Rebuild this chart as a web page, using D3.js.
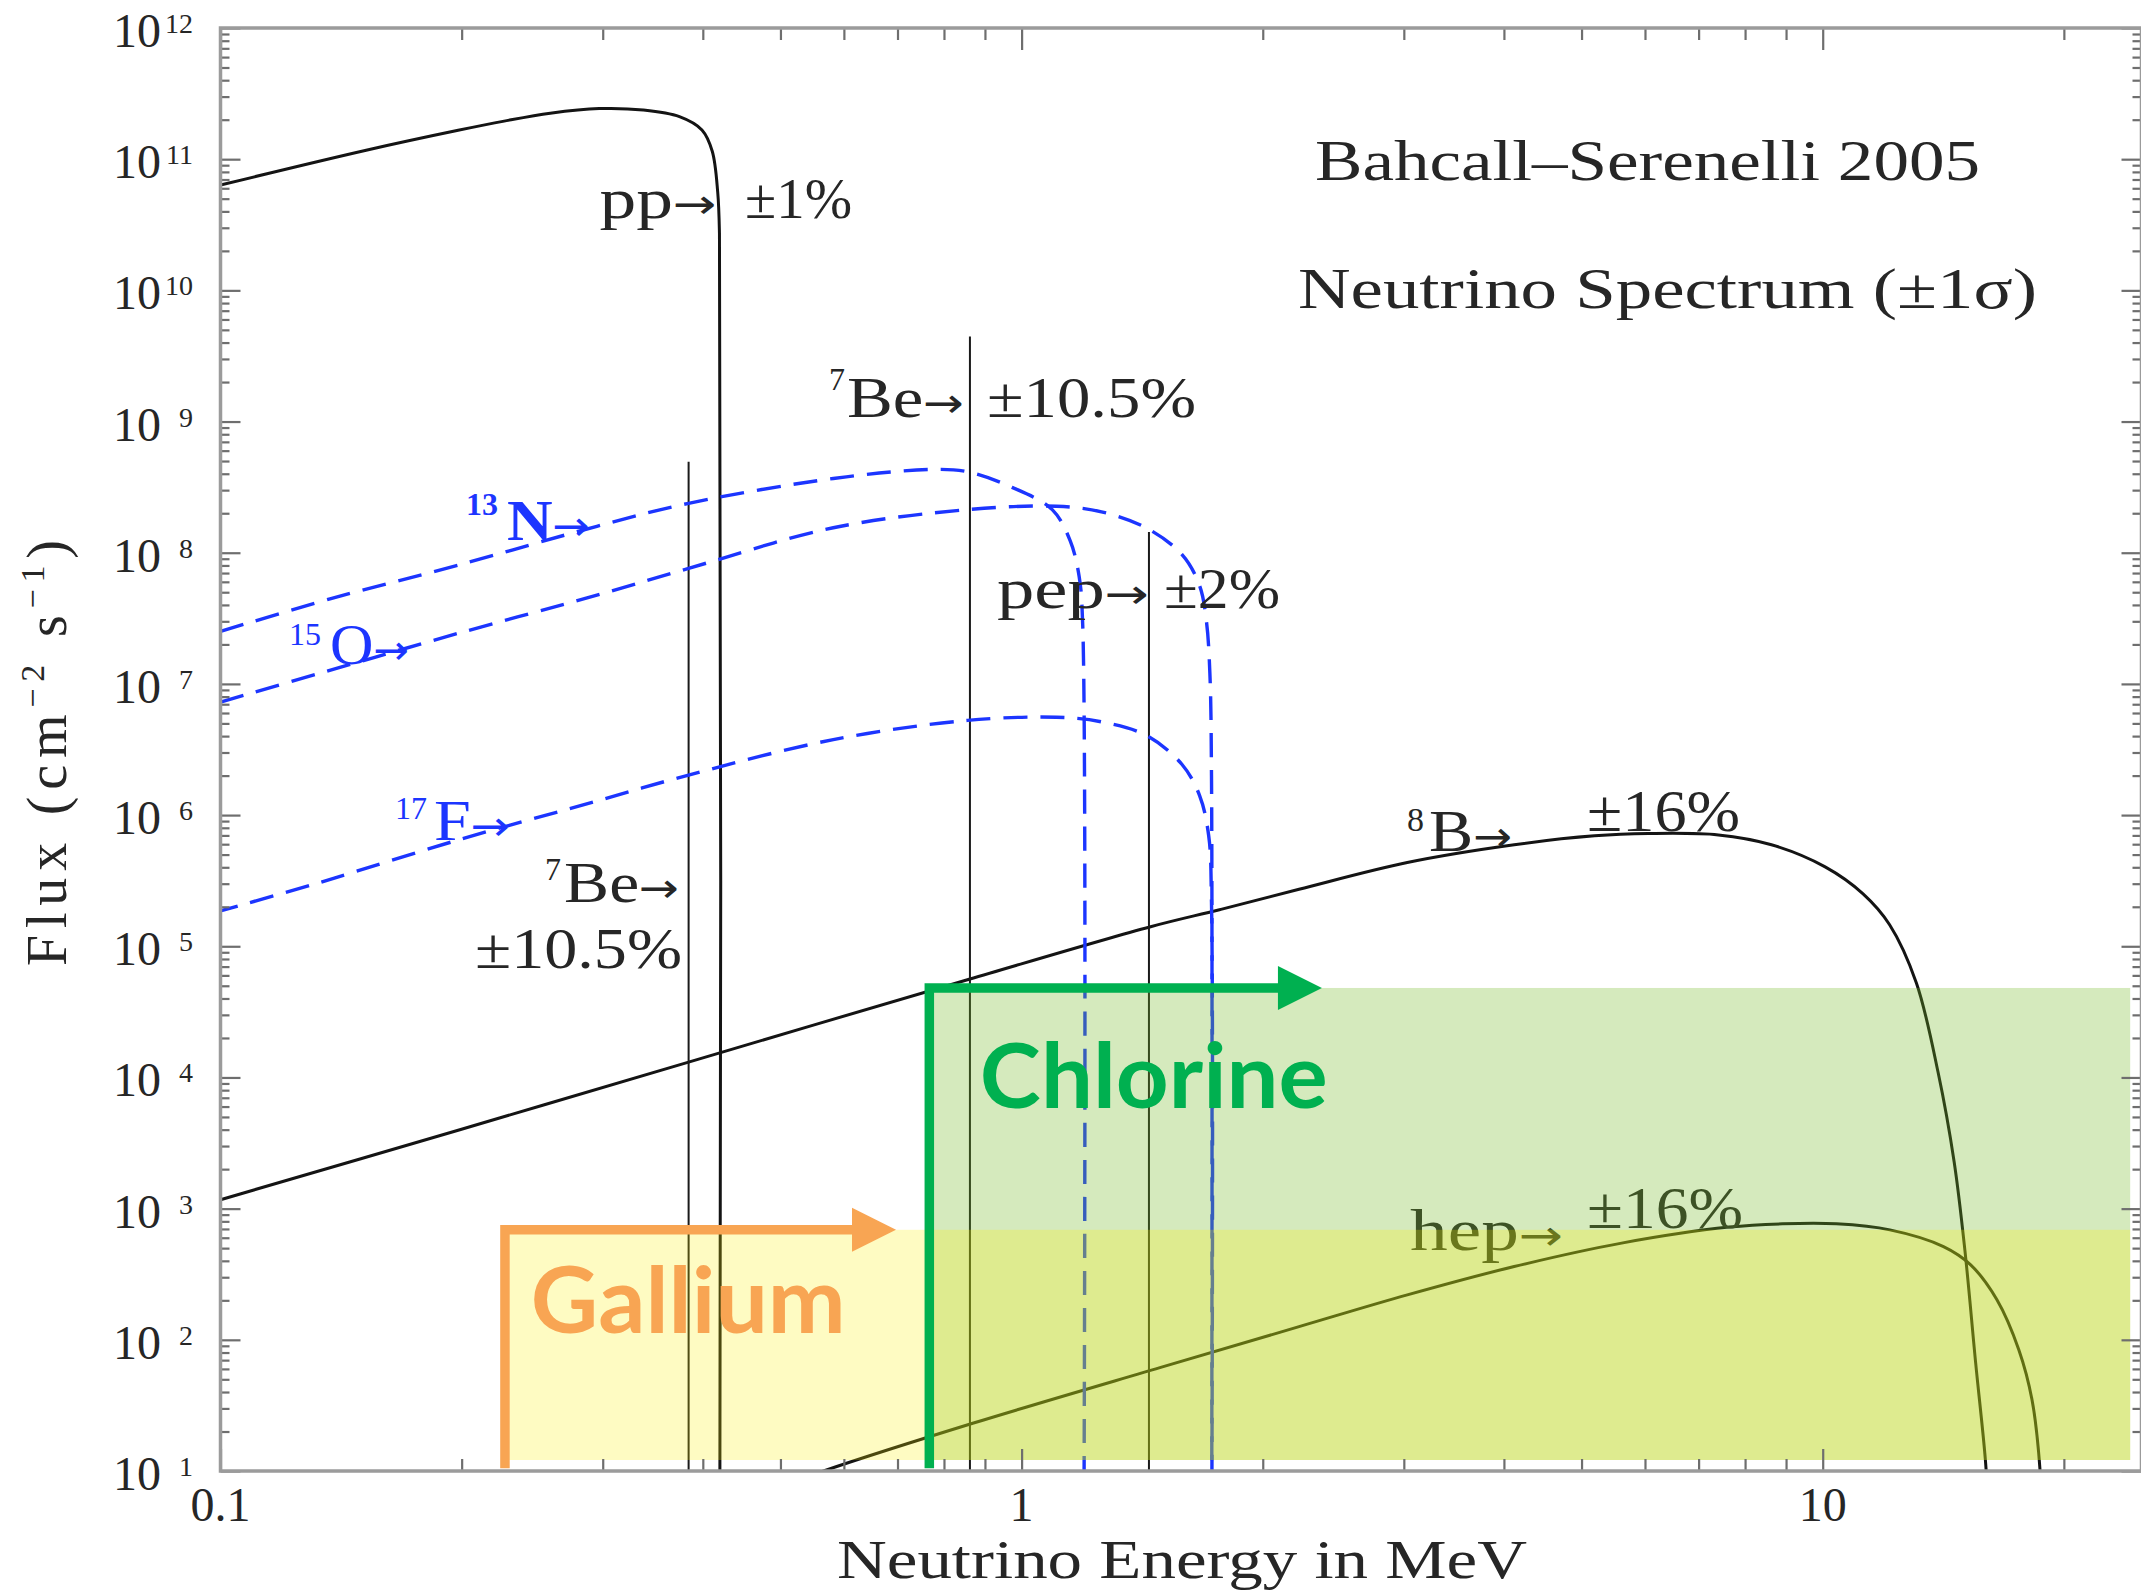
<!DOCTYPE html>
<html>
<head>
<meta charset="utf-8">
<title>Solar neutrino spectrum</title>
<script src="https://cdn.jsdelivr.net/npm/d3@7"></script>
<style>
  html, body { margin: 0; padding: 0; background: #fff; }
  svg { display: block; }
</style>
</head>
<body>
<svg id="chart" width="2141" height="1592"></svg>
<script>
// ---- Spectra: neutrino energy (MeV) and flux (cm^-2 s^-1, per MeV for continua) ----
const ppEnergy  = [0.1, 0.152, 0.198, 0.226, 0.258, 0.297, 0.337, 0.374, 0.399, 0.411, 0.4175, 0.4196, 0.420];
const ppFlux    = [6.35e10, 1.17e11, 1.66e11, 1.95e11, 2.24e11, 2.43e11, 2.37e11, 2.11e11, 1.67e11, 1.15e11, 5.6e10, 2.72e10, 3];

const b8Energy  = [0.1, 0.198, 0.384, 0.86, 1.449, 1.766, 2.22, 3.03, 4.12, 5.19, 6.06, 7.41, 8.63, 10.07, 11.23, 12.12, 13.09, 13.93, 14.59, 15.05, 15.52, 15.96, 16.1];
const b8Flux    = [1.17e3, 3.96e3, 1.31e4, 5.61e4, 1.41e5, 1.90e5, 2.72e5, 4.35e5, 5.94e5, 6.95e5, 7.23e5, 7.06e5, 5.94e5, 4.03e5, 2.51e5, 1.46e5, 5.25e4, 1.10e4, 2.28e3, 479, 67, 12.2, 5];

const hepEnergy = [0.5, 0.566, 0.871, 1.51, 2.22, 3.03, 4.12, 5.61, 7.64, 8.91, 10.4, 12.13, 14.15, 15.3, 16.5, 17.57, 18.25, 18.68, 18.77];
const hepFlux   = [7.6, 10, 23.2, 63, 126, 220, 362, 546, 723, 766, 766, 689, 514, 373, 202, 84, 34.9, 10, 4];

const n13Energy = [0.1, 0.137, 0.198, 0.295, 0.384, 0.582, 0.772, 0.856, 0.973, 1.092, 1.15, 1.18, 1.192, 1.196];
const n13Flux   = [2.51e7, 4.45e7, 8.04e7, 1.59e8, 2.38e8, 3.68e8, 4.31e8, 4.14e8, 3.15e8, 2.13e8, 1.23e8, 6.56e7, 2.82e7, 3];

const o15Energy = [0.1, 0.1406, 0.198, 0.295, 0.384, 0.582, 0.856, 1.106, 1.258, 1.43, 1.585, 1.668, 1.701, 1.718, 1.726, 1.727];
const o15Flux   = [7.26e6, 1.33e7, 2.43e7, 4.75e7, 7.60e7, 1.55e8, 2.13e8, 2.26e8, 2.05e8, 1.55e8, 9.71e7, 5.61e7, 3.0e7, 1.2e7, 2e6, 3];

const f17Energy = [0.1, 0.1334, 0.198, 0.295, 0.384, 0.582, 0.856, 1.106, 1.258, 1.43, 1.585, 1.668, 1.712, 1.726, 1.727];
const f17Flux   = [1.86e5, 3.08e5, 6.46e5, 1.28e6, 2.02e6, 3.76e6, 5.27e6, 5.57e6, 5.14e6, 4.06e6, 2.44e6, 1.41e6, 6.98e5, 2.15e5, 3];

// Monoenergetic lines: 7Be (two branches) and pep
const lineEnergy = [0.384, 0.862, 1.442];
const lineFlux   = [4.94e8, 4.44e9, 1.44e8];

// Detector sensitivity bands (energy edge, upper flux edge)
const galliumEdge = 0.2265, galliumTop = 690, galliumArrowTip = 0.697;
const chlorineEdge = 0.767, chlorineTop = 4.81e4, chlorineArrowTip = 2.371;
const bandEnd = 24.2, bandFloor = 12.13, edgeFloor = 10.5;

// Axis ticks
const xTickValues = [0.1, 1, 10];
const xTickLabels = ["0.1", "1", "10"];
const xMinorTicks = [0.2, 0.3, 0.4, 0.5, 0.6, 0.7, 0.8, 0.9, 2, 3, 4, 5, 6, 7, 8, 9, 20];
const yExponents  = [1, 2, 3, 4, 5, 6, 7, 8, 9, 10, 11, 12];

// Annotations anchored at (energy, flux): text start and baseline
const blackLabels = [
  { text: "Bahcall–Serenelli 2005", e: 2.324, f: 6.94e10, w: 665, size: 57 },
  { text: "Neutrino Spectrum (±1σ)", e: 2.213, f: 7.34e9, w: 739, size: 57 },
  { text: "pp→", e: 0.2972, f: 3.56e10, w: 117, size: 58 },
  { text: "±1%", e: 0.4516, f: 3.56e10, w: 107, size: 58 },
  { text: "7", e: 0.575, f: 1.74e9, size: 32 },
  { text: "Be→", e: 0.6054, f: 1.083e9, w: 117, size: 58 },
  { text: "±10.5%", e: 0.9053, f: 1.083e9, w: 209, size: 58 },
  { text: "pep→", e: 0.9317, f: 3.79e7, w: 152, size: 58 },
  { text: "±2%", e: 1.506, f: 3.79e7, w: 116, size: 58 },
  { text: "7", e: 0.2542, f: 3.2e5, size: 32 },
  { text: "Be→", e: 0.2685, f: 2.175e5, w: 115, size: 58 },
  { text: "±10.5%", e: 0.2078, f: 6.83e4, w: 207, size: 58 },
  { text: "8", e: 3.028, f: 7.56e5, size: 34 },
  { text: "B→", e: 3.226, f: 5.32e5, w: 83, size: 60 },
  { text: "±16%", e: 5.08, f: 7.56e5, w: 153, size: 60 },
  { text: "hep→", e: 3.054, f: 483.5, w: 153, size: 60 },
  { text: "±16%", e: 5.08, f: 711.8, w: 156, size: 60 }
];
const blueLabels = [
  { text: "13", e: 0.2025, f: 1.94e8, size: 32, bold: true },
  { text: "N→", e: 0.2278, f: 1.25e8, w: 83, size: 58, bold: true },
  { text: "15", e: 0.1218, f: 1.98e7, size: 32 },
  { text: "O→", e: 0.137, f: 1.418e7, w: 79, size: 58 },
  { text: "17", e: 0.1651, f: 9.34e5, size: 32 },
  { text: "F→", e: 0.1847, f: 6.46e5, w: 76, size: 58 }
];

// ---- Layout ----
const W = 2141, H = 1592;
const plot = { left: 220.5, right: 2141.5, top: 28, bottom: 1471 };
const x = d3.scaleLog().domain([0.1, 25]).range([plot.left, plot.right]);
const y = d3.scaleLog().domain([10, 1e12]).range([plot.bottom, plot.top]);

const SERIF = "'Liberation Serif', 'DejaVu Serif', serif";
const ARROW_FONT = "'DejaVu Sans', sans-serif";
const INK = "#262626";
const BLUE = "#1c35ff";
const ORANGE = "#f8a553";
const GREEN = "#00b050";
const DASH = [24, 13];

const svg = d3.select("#chart");
svg.append("rect").attr("width", W).attr("height", H).attr("fill", "#fff");
svg.append("defs").append("clipPath").attr("id", "plotClip")
  .append("rect")
  .attr("x", plot.left).attr("y", plot.top)
  .attr("width", plot.right - plot.left).attr("height", plot.bottom - plot.top);

const zip = (E, F) => E.map((e, i) => [e, F[i]]);
const curve = d3.line().x(d => x(d[0])).y(d => y(d[1])).curve(d3.curveCatmullRom.alpha(0.5));

// ---- Spectra ----
const gCurves = svg.append("g").attr("clip-path", "url(#plotClip)");

[[ppEnergy, ppFlux], [b8Energy, b8Flux], [hepEnergy, hepFlux]].forEach(([E, F]) => {
  gCurves.append("path")
    .attr("d", curve(zip(E, F)))
    .attr("fill", "none").attr("stroke", "#141414").attr("stroke-width", 3)
    .attr("stroke-linejoin", "round");
});

gCurves.selectAll("line.mono")
  .data(zip(lineEnergy, lineFlux))
  .join("line").attr("class", "mono")
  .attr("x1", d => x(d[0])).attr("x2", d => x(d[0]))
  .attr("y1", d => y(d[1])).attr("y2", plot.bottom)
  .attr("stroke", "#1a1a1a").attr("stroke-width", 2);

const cno = {};
[["n13", n13Energy, n13Flux], ["o15", o15Energy, o15Flux], ["f17", f17Energy, f17Flux]].forEach(([k, E, F]) => {
  cno[k] = gCurves.append("path")
    .attr("d", curve(zip(E, F)))
    .attr("fill", "none").attr("stroke", BLUE).attr("stroke-width", 3.4)
    .attr("stroke-dasharray", DASH.join(" "));
});

// 15O and 17F share the same end-point drop: interleave their dashes there
(function interleaveDrop() {
  const p15 = cno.o15.node(), p17 = cno.f17.node();
  const joinY = y(f17Flux[f17Flux.length - 2]);
  const lengthAtJoin = (p) => {
    let l = p.getTotalLength();
    while (l > 0 && p.getPointAtLength(l).y >= joinY) l -= 0.5;
    return l;
  };
  const L15 = lengthAtJoin(p15), L17 = lengthAtJoin(p17);
  const period = DASH[0] + DASH[1];
  const shift = DASH[0] - (DASH[0] - DASH[1]) / 2;
  const off = (((L15 - L17 - shift) % period) + period) % period;
  cno.f17.attr("stroke-dashoffset", off);
})();

// ---- Annotations ----
const gText = svg.append("g").attr("font-family", SERIF);

function addLabel(g, d, color) {
  const t = g.append("text")
    .attr("x", x(d.e)).attr("y", y(d.f))
    .attr("font-size", d.size)
    .attr("fill", color)
    .attr("font-weight", d.bold ? 700 : 400);
  const parts = d.text.split("→");
  t.append("tspan").text(parts[0]);
  if (parts.length > 1) {
    t.append("tspan")
      .attr("font-family", ARROW_FONT).attr("font-weight", 400)
      .attr("font-size", Math.round(d.size * 0.7))
      .text("→");
    if (parts[1]) t.append("tspan").text(parts[1]);
  }
  if (d.w) t.attr("textLength", d.w).attr("lengthAdjust", "spacingAndGlyphs");
}
blackLabels.forEach(d => addLabel(gText, d, INK));
blueLabels.forEach(d => addLabel(gText, d, BLUE));

// ---- Detector bands (translucent overlays) ----
const gBands = svg.append("g");
gBands.append("rect")
  .attr("x", x(chlorineEdge)).attr("y", y(chlorineTop))
  .attr("width", x(bandEnd) - x(chlorineEdge))
  .attr("height", y(bandFloor) - y(chlorineTop))
  .attr("fill", "rgb(115,185,35)").attr("fill-opacity", 0.3);
gBands.append("rect")
  .attr("x", x(galliumEdge)).attr("y", y(galliumTop))
  .attr("width", x(bandEnd) - x(galliumEdge))
  .attr("height", y(bandFloor) - y(galliumTop))
  .attr("fill", "rgb(250,238,0)").attr("fill-opacity", 0.24);

const HEAD_LEN = 44, HEAD_HALF = 22, EDGE_W = 9.5;
function thresholdMarker(edge, top, tip, color) {
  const x0 = x(edge), yTop = y(top), xt = x(tip);
  gBands.append("path")
    .attr("d", `M${x0},${y(edgeFloor)}V${yTop}H${xt - HEAD_LEN + 2}`)
    .attr("fill", "none").attr("stroke", color).attr("stroke-width", EDGE_W)
    .attr("stroke-linejoin", "miter").attr("stroke-linecap", "butt");
  gBands.append("path")
    .attr("d", `M${xt},${yTop}L${xt - HEAD_LEN},${yTop - HEAD_HALF}L${xt - HEAD_LEN},${yTop + HEAD_HALF}Z`)
    .attr("fill", color);
}
thresholdMarker(galliumEdge, galliumTop, galliumArrowTip, ORANGE);
thresholdMarker(chlorineEdge, chlorineTop, chlorineArrowTip, GREEN);

const SANS = "Lato, 'Open Sans', 'DejaVu Sans', sans-serif";
gBands.append("text")
  .attr("x", x(0.244)).attr("y", y(112.7))
  .attr("font-family", SANS).attr("font-weight", 700).attr("font-size", 91)
  .attr("fill", ORANGE)
  .attr("textLength", 315).attr("lengthAdjust", "spacingAndGlyphs")
  .text("Gallium");
gBands.append("text")
  .attr("x", x(0.887)).attr("y", y(5848))
  .attr("font-family", SANS).attr("font-weight", 700).attr("font-size", 90)
  .attr("fill", GREEN)
  .attr("textLength", 348).attr("lengthAdjust", "spacingAndGlyphs")
  .text("Chlorine");

// ---- Axes ----
const gAxes = svg.append("g");
const yMinor = [];
yExponents.slice(0, -1).forEach(e => { for (let m = 2; m <= 9; m++) yMinor.push(m * Math.pow(10, e)); });
const yMajor = yExponents.map(e => Math.pow(10, e));

function tickAxis(axis, transform) {
  const g = gAxes.append("g").attr("transform", transform).call(axis);
  g.select(".domain").remove();
  g.selectAll(".tick line").attr("stroke", "#6e6e6e").attr("stroke-width", 2.2);
  g.selectAll(".tick text").remove();
}
tickAxis(d3.axisTop(x).tickValues(xMinorTicks).tickSize(12).tickFormat(""), `translate(0,${plot.bottom})`);
tickAxis(d3.axisTop(x).tickValues(xTickValues).tickSize(22).tickFormat(""), `translate(0,${plot.bottom})`);
tickAxis(d3.axisBottom(x).tickValues(xMinorTicks).tickSize(12).tickFormat(""), `translate(0,${plot.top})`);
tickAxis(d3.axisBottom(x).tickValues(xTickValues).tickSize(22).tickFormat(""), `translate(0,${plot.top})`);
tickAxis(d3.axisRight(y).tickValues(yMinor).tickSize(9).tickFormat(""), `translate(${plot.left},0)`);
tickAxis(d3.axisRight(y).tickValues(yMajor).tickSize(20).tickFormat(""), `translate(${plot.left},0)`);
tickAxis(d3.axisLeft(y).tickValues(yMinor).tickSize(9).tickFormat(""), `translate(${plot.right},0)`);
tickAxis(d3.axisLeft(y).tickValues(yMajor).tickSize(20).tickFormat(""), `translate(${plot.right},0)`);

gAxes.append("rect")
  .attr("x", plot.left).attr("y", plot.top)
  .attr("width", plot.right - plot.left).attr("height", plot.bottom - plot.top)
  .attr("fill", "none").attr("stroke", "#9b9b9b").attr("stroke-width", 3.5);

// Tick labels
const gTicks = svg.append("g").attr("font-family", SERIF).attr("fill", INK);
yExponents.forEach(e => {
  const yy = y(Math.pow(10, e));
  gTicks.append("text").attr("x", plot.left - 59.5).attr("y", yy + 19)
    .attr("text-anchor", "end").attr("font-size", 48).text("10");
  gTicks.append("text").attr("x", plot.left - 27.5).attr("y", yy + 5)
    .attr("text-anchor", "end").attr("font-size", 28).text(e);
});
xTickValues.forEach((v, i) => {
  gTicks.append("text").attr("x", x(v)).attr("y", plot.bottom + 50)
    .attr("text-anchor", "middle").attr("font-size", 48).text(xTickLabels[i]);
});

// Axis titles
gTicks.append("text")
  .attr("x", 837).attr("y", 1578)
  .attr("font-size", 55)
  .attr("textLength", 690).attr("lengthAdjust", "spacingAndGlyphs")
  .text("Neutrino Energy in MeV");

const yTitle = gTicks.append("text")
  .attr("transform", "translate(66,966) rotate(-90)")
  .attr("font-size", 56)
  .attr("textLength", 426).attr("lengthAdjust", "spacing");
yTitle.append("tspan").text("Flux  (cm");
yTitle.append("tspan").attr("font-size", 34).attr("dy", -22).text("−2");
yTitle.append("tspan").attr("dy", 22).text("  s");
yTitle.append("tspan").attr("font-size", 34).attr("dy", -22).text("−1");
yTitle.append("tspan").attr("dy", 22).text(")");
</script>
</body>
</html>
